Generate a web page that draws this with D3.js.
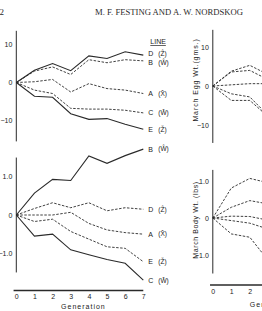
<!DOCTYPE html>
<html lang="en">
<head>
  <script src="https://d3js.org/d3.v7.min.js"></script>
  <style>
    body { margin: 0; background: #fff; }
    svg { display: block; }
    .tick text { font: 7px "Liberation Sans", sans-serif; fill: #222; }
    .lbl { font: 7px "Liberation Sans", sans-serif; fill: #222; }
  </style>
</head>
<body>
<div id="chart"></div>
<script>
  // generations and series
  var generations = [0, 1, 2, 3, 4, 5, 6, 7];
  var partGenerations = [0, 1, 2, 3];

  // left top: egg weight response, lines D B A C E
  var eggNames = ["D", "B", "A", "C", "E"];
  var eggSymbols = ["(Ẑ)", "(Ŵ)", "(X̂)", "(W̌)", "(Ž)"];
  var eggSolid = [true, false, false, false, true];
  var eggD = [0, 3.2, 5.0, 3.1, 7.0, 6.3, 8.1, 7.2];
  var eggB = [0, 3.0, 4.1, 2.1, 6.0, 5.2, 6.0, 5.7];
  var eggA = [0, 0.2, 0.8, -2.5, -0.3, -1.6, -2.0, -2.9];
  var eggC = [0, -2.0, -2.9, -6.8, -7.0, -7.0, -7.3, -8.0];
  var eggE = [0, -3.6, -3.9, -8.2, -9.7, -9.5, -11.0, -12.3];

  // left bottom: body weight response, lines B D A E C
  var bodyNames = ["B", "D", "A", "E", "C"];
  var bodySymbols = ["(Ŵ)", "(Ẑ)", "(X̂)", "(Ž)", "(W̌)"];
  var bodySolid = [true, false, false, false, true];
  var bodyB = [0, 0.57, 0.93, 0.90, 1.54, 1.35, 1.55, 1.72];
  var bodyD = [0, 0.17, 0.32, 0.19, 0.32, 0.11, 0.19, 0.15];
  var bodyA = [0, 0.0, 0.0, 0.07, -0.22, -0.39, -0.46, -0.50];
  var bodyE = [0, -0.17, -0.11, -0.43, -0.63, -0.83, -0.87, -1.22];
  var bodyC = [0, -0.55, -0.50, -0.91, -1.04, -1.16, -1.26, -1.70];

  // right panels (cut off at page edge), all dashed
  var egg2 = [
    [0, 3.8, 5.3, 2.9],
    [0, 3.6, 4.0, 1.6],
    [0, 0.3, 0.6, 0.6],
    [0, -2.0, -2.8, -7.6],
    [0, -3.7, -3.7, -7.9]
  ];
  var body2 = [
    [0, 0.81, 1.07, 0.95],
    [0, 0.29, 0.47, 0.38],
    [0, 0.05, 0.04, -0.06],
    [0, -0.07, -0.14, -0.30],
    [0, -0.43, -0.52, -1.15]
  ];

  var eggTicks = [-10, 0, 10];
  var bodyTicks = [-1, 0, 1];

  var width = 262, height = 311;
  var svg = d3.select("#chart").append("svg")
          .attr("width", width)
          .attr("height", height);

  var ink = "#2a2a2a";

  // header
  svg.append("text").attr("x", 4).attr("y", 15).attr("text-anchor", "end")
          .style("font", "9px 'Liberation Serif', serif").style("fill", ink).text("2");
  svg.append("text").attr("x", 95).attr("y", 15)
          .attr("textLength", 148).attr("lengthAdjust", "spacingAndGlyphs")
          .style("font", "7.5px 'Liberation Serif', serif").style("fill", ink)
          .text("M. F. FESTING AND A. W. NORDSKOG");

  // scales
  var xL = d3.scaleLinear().domain([0, 7]).range([16.3, 143.3]);
  var xR = d3.scaleLinear().domain([0, 7]).range([212.8, 342.3]);
  var yEggL = d3.scaleLinear().domain([-10, 10]).range([120.5, 44.5]);
  var yBodyL = d3.scaleLinear().domain([-1, 1]).range([253.3, 176.7]);
  var yEggR = d3.scaleLinear().domain([-10, 10]).range([125, 47]);
  var yBodyR = d3.scaleLinear().domain([-1, 1]).range([255, 181]);

  function yAxis(x, y, ticks, extent, fmt) {
    var g = svg.append("g").attr("transform", "translate(" + x(0) + ",0)")
            .call(d3.axisLeft(y).tickValues(ticks).tickSize(0).tickPadding(4).tickFormat(fmt));
    g.select(".domain").remove();
    g.append("line")
            .attr("y1", y(extent[0])).attr("y2", y(extent[1]))
            .attr("stroke", ink).attr("stroke-width", 1);
  }

  function fmtEgg(d) { return d3.format("d")(d); }
  function fmtBody(d) { return d === 0 ? "0" : d3.format(".1f")(d); }

  yAxis(xL, yEggL, eggTicks, [-15.5, 13.6], fmtEgg);
  yAxis(xL, yBodyL, bodyTicks, [-1.5, 1.5], fmtBody);
  yAxis(xR, yEggR, eggTicks, [-14.6, 14.4], fmtEgg);
  yAxis(xR, yBodyR, bodyTicks, [-1.5, 1.3], fmtBody);

  // x axes (generation)
  function xAxis(x, yPos) {
    var g = svg.append("g").attr("transform", "translate(0," + yPos + ")")
            .call(d3.axisBottom(x).tickValues(generations).tickSize(0).tickPadding(4).tickFormat(d3.format("d")));
    g.select(".domain").remove();
    g.append("line").attr("x1", x(-0.15)).attr("x2", x(7))
            .attr("stroke", ink).attr("stroke-width", 1.3);
    return g;
  }
  xAxis(xL, 290.5).append("text").attr("class", "lbl")
          .attr("x", xL(3.7)).attr("y", 18).attr("text-anchor", "middle")
          .style("letter-spacing", "1px").text("Generation");
  xAxis(xR, 285).append("text").attr("class", "lbl")
          .attr("x", xR(2)).attr("y", 22).attr("text-anchor", "start")
          .style("letter-spacing", "1px").text("Generation");

  // rotated y labels of the right figure
  svg.append("text").attr("class", "lbl")
          .attr("transform", "translate(198,80) rotate(-90)")
          .attr("text-anchor", "middle").style("letter-spacing", "0.9px")
          .text("March Egg Wt.(gms.)");
  svg.append("text").attr("class", "lbl")
          .attr("transform", "translate(198,220) rotate(-90)")
          .attr("text-anchor", "middle").style("letter-spacing", "0.6px")
          .text("March Body Wt. (lbs)");

  function drawLines(series, solid, gens, x, y) {
    var line = d3.line()
            .x(function (d, i) { return x(gens[i]); })
            .y(function (d) { return y(d); });
    series.forEach(function (s, k) {
      svg.append("path")
              .datum(s)
              .attr("d", line)
              .attr("fill", "none")
              .attr("stroke", ink)
              .attr("stroke-width", solid[k] ? 1.1 : 0.9)
              .attr("stroke-dasharray", solid[k] ? null : "2.5,1.5");
    });
  }

  function drawLabels(series, names, symbols, nudge, x, y) {
    series.forEach(function (s, k) {
      var yy = y(s[s.length - 1]) + nudge[k];
      svg.append("text").attr("class", "lbl")
              .attr("x", x(7) + 5).attr("y", yy).attr("dy", "0.35em")
              .text(names[k]);
      svg.append("text").attr("class", "lbl")
              .attr("x", x(7) + 15).attr("y", yy).attr("dy", "0.35em")
              .style("font-size", "6.5px")
              .text(symbols[k]);
    });
  }

  var eggSeries = [eggD, eggB, eggA, eggC, eggE];
  var bodySeries = [bodyB, bodyD, bodyA, bodyE, bodyC];
  drawLines(eggSeries, eggSolid, generations, xL, yEggL);
  drawLines(bodySeries, bodySolid, generations, xL, yBodyL);
  drawLabels(eggSeries, eggNames, eggSymbols, [-1.5, 1.5, 0.5, 0, 0], xL, yEggL);
  drawLabels(bodySeries, bodyNames, bodySymbols, [0, 0.5, 0, -0.5, 0.5], xL, yBodyL);

  var allDashed = [false, false, false, false, false];
  drawLines(egg2, allDashed, partGenerations, xR, yEggR);
  drawLines(body2, allDashed, partGenerations, xR, yBodyR);

  // legend heading
  svg.append("text").attr("class", "lbl")
          .attr("x", xL(7) + 7).attr("y", 44)
          .style("text-decoration", "underline")
          .text("LINE");
</script>
</body>
</html>
